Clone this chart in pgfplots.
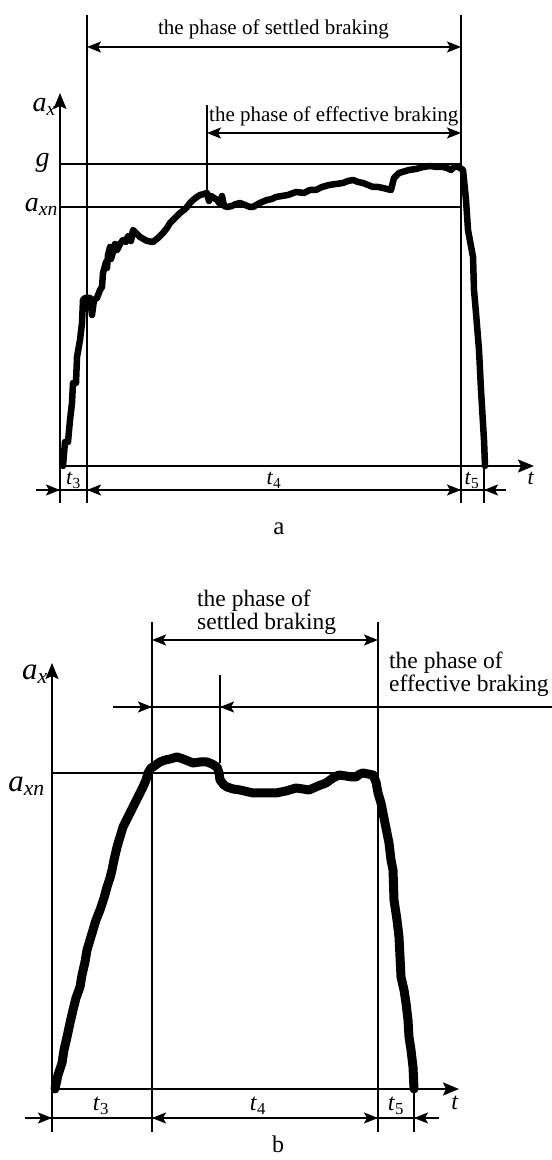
\documentclass[border=0pt]{standalone}
\usepackage{pgfplots}
\pgfplotsset{compat=1.18}
\usepackage{fontspec}
\setmainfont{Liberation Serif}
\usetikzlibrary{arrows.meta}
\newcommand\fphA{\fontsize{21bp}{25bp}\selectfont}
\newcommand\fphB{\fontsize{23.5bp}{27bp}\selectfont}
\newcommand\flabA{\fontsize{28bp}{32bp}\selectfont}
\newcommand\flabB{\fontsize{31bp}{35bp}\selectfont}
\newcommand\ftA{\fontsize{22bp}{25bp}\selectfont}
\newcommand\ftB{\fontsize{24bp}{27bp}\selectfont}
\begin{document}
\begin{tikzpicture}[
  >={Stealth[length=14bp,width=11bp,inset=3bp]},
  ln/.style={line width=1.6bp},
  ax/.style={line width=2bp,-{Stealth[length=16bp,width=13bp,inset=3bp]}},
  lab/.style={inner sep=0pt}
]
\useasboundingbox (0,0) rectangle (552bp,1160bp);

% ---------------- panel a ----------------
\begin{axis}[at={(0,615bp)}, anchor=south west, scale only axis,
  width=552bp, height=545bp, xmin=-60, xmax=492, ymin=-79, ymax=466,
  hide axis, clip=false]
\addplot[line width=6.5bp, line join=round, line cap=round] coordinates {
(3,0) (5,24) (8,24) (10,46) (12,63) (13,83) (16,83) (17,109) (20,126) (22,143) (23,166)
(25,168) (30,168) (32,151) (34,166) (37,168) (40,176) (42,179) (43,193) (46,204)
(47,198) (48,211) (50,219) (51,207) (53,214) (55,222) (57,216) (60,222) (63,226) (66,224) (68,230) (71,225) (73,236)
(77,232) (80,229) (87,225) (93,224) (98,228) (103,233) (107,238) (110,243)
(115,248) (120,253) (124,256) (127,259) (130,263) (133,266) (137,269) (140,271)
(144,272) (147,273) (149,265) (151,270) (154,268) (157,266) (160,262) (162,270) (164,260) (167,259)
(172,260) (176,262) (180,263) (185,261) (190,259) (193,259) (198,262) (202,264)
(207,266) (212,267) (216,269) (222,270) (228,271) (236,274) (244,273) (250,276) (256,276)
(262,279) (269,281) (276,282) (283,283) (288,285) (293,286) (298,284) (303,283)
(308,281) (313,279) (318,279) (323,278) (331,276) (334,288) (339,293) (349,296)
(356,297) (363,299) (370,300) (377,299) (383,299) (387,298) (391,296) (393,298)
(396,300) (400,298) (403,296) (406,266) (408,236) (413,209) (414,176) (416,153)
(419,116) (421,76) (424,26) (425,0)
};
% axes
\draw[ax] (0,-37) -- (0,373);
\draw[ax] (0,0) -- (474,0);
% verticals
\draw[ln] (27,451) -- (27,-37);
\draw[ln] (401,451) -- (401,-37);
\draw[ln] (424,0) -- (424,-37);
\draw[ln] (147,361) -- (147,274);
% level lines
\draw[ln] (0,302) -- (401,302);
\draw[ln] (0,259) -- (401,259);
% phase arrows
\draw[ln,<->] (27,419) -- (401,419);
\draw[ln,<->] (147,333) -- (401,333);
% dimension line
\draw[ln] (-24,-24) -- (446,-24);
\draw[ln,->] (-24,-24) -- (0,-24);
\draw[ln,<->] (27,-24) -- (401,-24);
\draw[ln,<-] (424,-24) -- (446,-24);
% texts
\node[lab,anchor=base] at (213.5,431) {\fphA the phase of settled braking};
\node[lab,anchor=base west] at (149,344) {\fphA the phase of effective braking};
\node[lab,anchor=base east] at (-4,354) {\flabA\textit{a}\textsubscript{\textit{x}}};
\node[lab,anchor=base] at (-17.5,299) {\flabA\textit{g}};
\node[lab,anchor=base east] at (-2,254) {\flabA\textit{a}\textsubscript{\textit{xn}}};
\node[lab,anchor=base] at (13.5,-19) {\ftA\textit{t}\textsubscript{3}};
\node[lab,anchor=base] at (214,-19) {\ftA\textit{t}\textsubscript{4}};
\node[lab,anchor=base] at (412,-19) {\ftA\textit{t}\textsubscript{5}};
\node[lab,anchor=base] at (471,-19) {\ftA\textit{t}};
\node[lab,anchor=base] at (219,-69) {\fontsize{25bp}{29bp}\selectfont a};
\end{axis}

% ---------------- panel b ----------------
\begin{axis}[at={(0,0)}, anchor=south west, scale only axis,
  width=552bp, height=615bp, xmin=-52, xmax=500, ymin=-71, ymax=544,
  hide axis, clip=false]
\addplot[line width=9bp, line join=round, line cap=round] coordinates {
(3,0) (6,14) (10,26) (12,39) (15,52) (18,66) (21,79) (24,91) (28,102) (30,114)
(33,127) (35,139) (38,149) (41,159) (44,169) (48,179) (52,191) (55,202) (58,211)
(60,219) (62,229) (65,242) (68,252) (71,262) (76,272) (81,282) (86,292) (91,302)
(94,309) (96,316) (99,321) (101,322) (105,325) (108,327) (113,329) (118,330)
(125,332) (131,330) (136,328) (141,326) (148,327) (155,327) (160,325) (165,322)
(167,316) (168,309) (172,304) (175,302) (181,300) (188,299) (201,296) (213,296)
(224,296) (234,298) (244,301) (251,300) (257,299) (266,303) (274,306) (281,311)
(287,314) (294,313) (300,312) (304,312) (308,315) (311,316) (316,315) (321,314)
(324,307) (326,296) (329,286) (331,276) (334,261) (337,246) (339,229) (341,219)
(342,189) (345,169) (347,152) (348,132) (349,112) (352,99) (354,86) (356,69)
(357,52) (359,39) (361,22) (362,0)
};
% axes
\draw[ax] (0,-43) -- (0,426);
\draw[ax] (0,0) -- (407,0);
% verticals
\draw[ln] (100,467) -- (100,-43);
\draw[ln] (326,467) -- (326,-43);
\draw[ln] (362,0) -- (362,-43);
\draw[ln] (168,414) -- (168,326);
% level line
\draw[ln] (0,316) -- (326,316);
% phase arrows
\draw[ln,<->] (100,449) -- (326,449);
\draw[ln] (61,382) -- (500,382);
\draw[ln,->] (61,382) -- (100,382);
\draw[ln,<-] (168,382) -- (230,382);
% dimension line
\draw[ln] (-27,-29) -- (387,-29);
\draw[ln,->] (-27,-29) -- (0,-29);
\draw[ln,<->] (100,-29) -- (326,-29);
\draw[ln,<-] (362,-29) -- (387,-29);
% texts
\node[lab,anchor=base west] at (145,482) {\fphB the phase of};
\node[lab,anchor=base west] at (145,459) {\fphB settled braking};
\node[lab,anchor=base west] at (337,420) {\fphB the phase of};
\node[lab,anchor=base west] at (337,397) {\fphB effective braking};
\node[lab,anchor=base east] at (-4,409) {\flabB\textit{a}\textsubscript{\textit{x}}};
\node[lab,anchor=base east] at (-7,297) {\flabB\textit{a}\textsubscript{\textit{xn}}};
\node[lab,anchor=base] at (49,-22) {\ftB\textit{t}\textsubscript{3}};
\node[lab,anchor=base] at (206,-22) {\ftB\textit{t}\textsubscript{4}};
\node[lab,anchor=base] at (344,-22) {\ftB\textit{t}\textsubscript{5}};
\node[lab,anchor=base] at (403,-21) {\ftB\textit{t}};
\node[lab,anchor=base] at (226,-63) {\fontsize{24bp}{28bp}\selectfont b};
\end{axis}
\end{tikzpicture}
\end{document}
